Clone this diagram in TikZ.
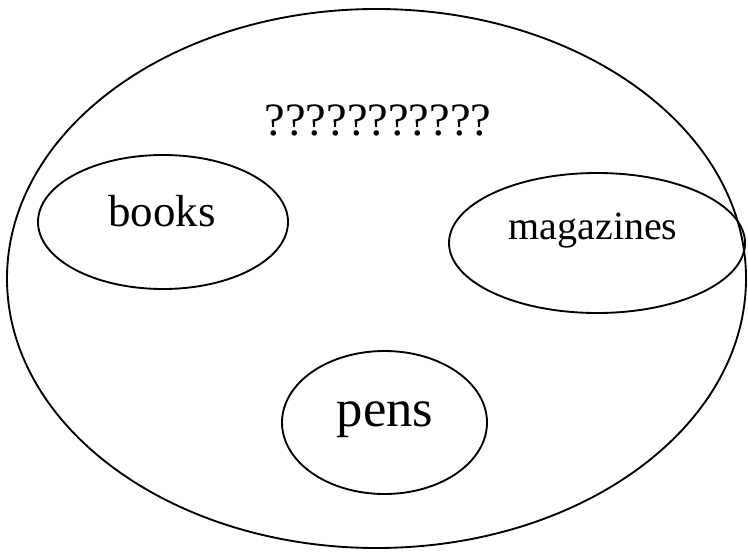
\documentclass[tikz,border=0pt]{standalone}
\usepackage{fontspec}
\setmainfont{Liberation Serif}
\begin{document}
\begin{tikzpicture}[x=0.75pt,y=0.75pt,yscale=-1,xscale=1]
        \useasboundingbox (0,0) rectangle (748,552);
        \tikzset{setline/.style={line width=1.4pt}}
        % outer set
        \draw [setline]  (376.5,278.5) ellipse (369.5 and 269.5) ;
        % inner sets
        \draw [setline]  (163,222) ellipse (125 and 67) ;
        \draw [setline]  (597,243) ellipse (148 and 70) ;
        \draw [setline]  (384.5,422.5) ellipse (102.5 and 71.5) ;
        % labels
        \node (quest) at (378,120) {\fontsize{34.8pt}{40pt}\selectfont ???????????};
        \node (books) at (162,211) {\fontsize{33.7pt}{40pt}\selectfont books};
        \node (magazines) at (593,231) {\fontsize{30pt}{36pt}\selectfont magazines};
        \node (pens) at (385,420) {\fontsize{39.5pt}{46pt}\selectfont pens};
        \end{tikzpicture}
\end{document}
